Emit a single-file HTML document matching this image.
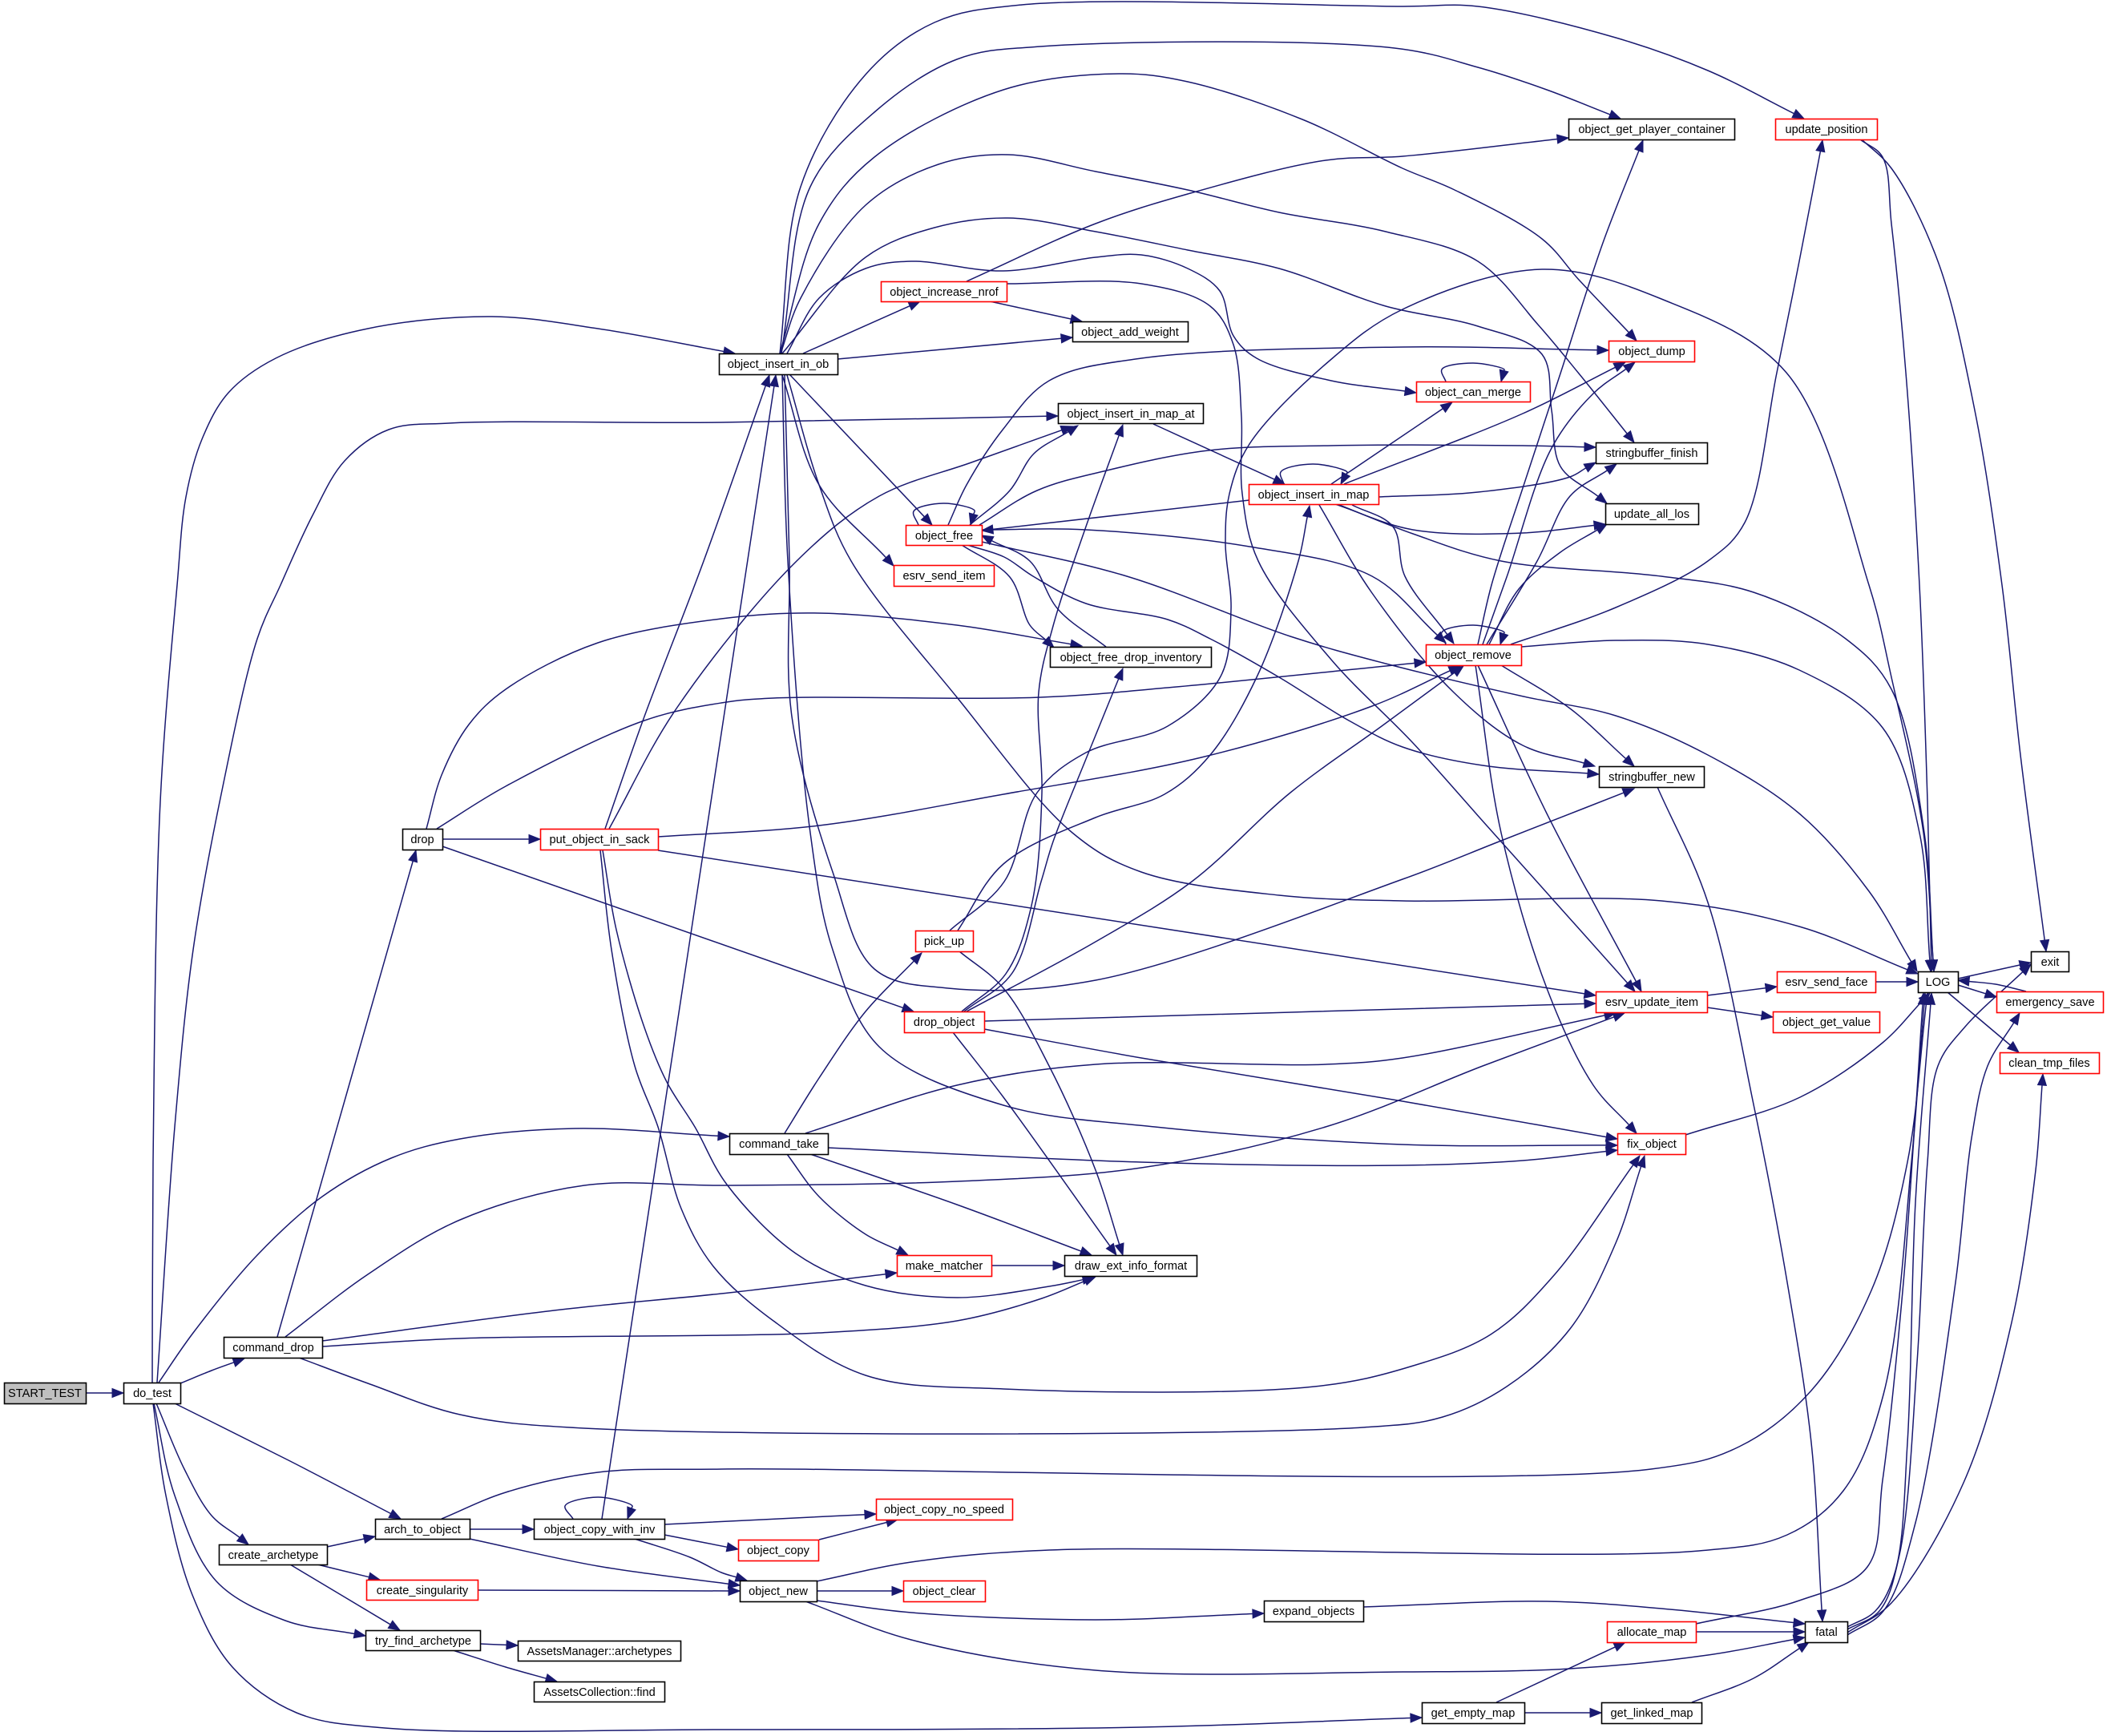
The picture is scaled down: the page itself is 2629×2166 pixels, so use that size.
<!DOCTYPE html>
<html>
<head>
<meta charset="utf-8">
<style>
html,body{margin:0;padding:0;background:#fff;}
svg{display:block;}
text{font-family:"Liberation Sans",Arial,sans-serif;font-size:14.6px;fill:#000;text-anchor:middle;}
</style>
</head>
<body>
<svg id="g" width="2629" height="2166" viewBox="0 0 2629 2166">
<rect x="0" y="0" width="2629" height="2166" fill="#fff"/>
<g id="edges" fill="none" stroke="#191970" stroke-width="1.5"></g>
<g id="heads" fill="#191970" stroke="#191970" stroke-width="1"></g>
<g id="nodes" stroke-width="1.6">
<rect x="5.5" y="1725.5" width="102" height="26" fill="#bfbfbf" stroke="#000"/><text x="56" y="1743">START_TEST</text>
<rect x="154.5" y="1725.5" width="71" height="26" fill="#fff" stroke="#000"/><text x="190" y="1743">do_test</text>
<rect x="279.5" y="1668.5" width="123" height="26" fill="#fff" stroke="#000"/><text x="341" y="1686">command_drop</text>
<rect x="468.5" y="1895.5" width="118" height="25" fill="#fff" stroke="#000"/><text x="527" y="1913">arch_to_object</text>
<rect x="666.5" y="1895.5" width="163" height="25" fill="#fff" stroke="#000"/><text x="748" y="1913">object_copy_with_inv</text>
<rect x="273.5" y="1927.5" width="135" height="25" fill="#fff" stroke="#000"/><text x="341" y="1945">create_archetype</text>
<rect x="457.5" y="1971.5" width="139" height="25" fill="#fff" stroke="#ff0000"/><text x="527" y="1989">create_singularity</text>
<rect x="456.5" y="2034.5" width="143" height="25" fill="#fff" stroke="#000"/><text x="528" y="2052">try_find_archetype</text>
<rect x="646.5" y="2047.5" width="203" height="25" fill="#fff" stroke="#000"/><text x="748" y="2065">AssetsManager::archetypes</text>
<rect x="666.5" y="2098.5" width="163" height="25" fill="#fff" stroke="#000"/><text x="748" y="2116">AssetsCollection::find</text>
<rect x="502.5" y="1034.5" width="50" height="26" fill="#fff" stroke="#000"/><text x="527" y="1052">drop</text>
<rect x="674.5" y="1034.5" width="147" height="26" fill="#fff" stroke="#ff0000"/><text x="748" y="1052">put_object_in_sack</text>
<rect x="897.5" y="441.5" width="148" height="26" fill="#fff" stroke="#000"/><text x="971" y="459">object_insert_in_ob</text>
<rect x="1099.5" y="351.5" width="157" height="25" fill="#fff" stroke="#ff0000"/><text x="1178" y="369">object_increase_nrof</text>
<rect x="1338.5" y="401.5" width="144" height="25" fill="#fff" stroke="#000"/><text x="1410" y="419">object_add_weight</text>
<rect x="1320.5" y="503.5" width="181" height="25" fill="#fff" stroke="#000"/><text x="1411" y="521">object_insert_in_map_at</text>
<rect x="1558.5" y="604.5" width="162" height="25" fill="#fff" stroke="#ff0000"/><text x="1639" y="622">object_insert_in_map</text>
<rect x="1130.5" y="655.5" width="95" height="25" fill="#fff" stroke="#ff0000"/><text x="1178" y="673">object_free</text>
<rect x="1115.5" y="705.5" width="125" height="26" fill="#fff" stroke="#ff0000"/><text x="1178" y="723">esrv_send_item</text>
<rect x="1310.5" y="807.5" width="201" height="25" fill="#fff" stroke="#000"/><text x="1411" y="825">object_free_drop_inventory</text>
<rect x="1142.5" y="1161.5" width="72" height="26" fill="#fff" stroke="#ff0000"/><text x="1178" y="1179">pick_up</text>
<rect x="1128.5" y="1262.5" width="100" height="26" fill="#fff" stroke="#ff0000"/><text x="1178" y="1280">drop_object</text>
<rect x="910.5" y="1414.5" width="123" height="26" fill="#fff" stroke="#000"/><text x="972" y="1432">command_take</text>
<rect x="1119.5" y="1566.5" width="118" height="26" fill="#fff" stroke="#ff0000"/><text x="1178" y="1584">make_matcher</text>
<rect x="1328.5" y="1566.5" width="165" height="26" fill="#fff" stroke="#000"/><text x="1411" y="1584">draw_ext_info_format</text>
<rect x="1093.5" y="1870.5" width="170" height="26" fill="#fff" stroke="#ff0000"/><text x="1178" y="1888">object_copy_no_speed</text>
<rect x="921.5" y="1921.5" width="100" height="26" fill="#fff" stroke="#ff0000"/><text x="971" y="1939">object_copy</text>
<rect x="923.5" y="1972.5" width="96" height="26" fill="#fff" stroke="#000"/><text x="971" y="1990">object_new</text>
<rect x="1127.5" y="1972.5" width="102" height="26" fill="#fff" stroke="#ff0000"/><text x="1178" y="1990">object_clear</text>
<rect x="1577.5" y="1997.5" width="124" height="26" fill="#fff" stroke="#000"/><text x="1639" y="2015">expand_objects</text>
<rect x="1957.5" y="148.5" width="207" height="26" fill="#fff" stroke="#000"/><text x="2061" y="166">object_get_player_container</text>
<rect x="2215.5" y="148.5" width="127" height="26" fill="#fff" stroke="#ff0000"/><text x="2279" y="166">update_position</text>
<rect x="2007.5" y="425.5" width="107" height="26" fill="#fff" stroke="#ff0000"/><text x="2061" y="443">object_dump</text>
<rect x="1767.5" y="476.5" width="142" height="25" fill="#fff" stroke="#ff0000"/><text x="1838" y="494">object_can_merge</text>
<rect x="1991.5" y="552.5" width="139" height="26" fill="#fff" stroke="#000"/><text x="2061" y="570">stringbuffer_finish</text>
<rect x="2003.5" y="628.5" width="116" height="26" fill="#fff" stroke="#000"/><text x="2061" y="646">update_all_los</text>
<rect x="1779.5" y="804.5" width="119" height="26" fill="#fff" stroke="#ff0000"/><text x="1838" y="822">object_remove</text>
<rect x="1995.5" y="956.5" width="131" height="26" fill="#fff" stroke="#000"/><text x="2061" y="974">stringbuffer_new</text>
<rect x="1991.5" y="1237.5" width="139" height="26" fill="#fff" stroke="#ff0000"/><text x="2061" y="1255">esrv_update_item</text>
<rect x="2217.5" y="1212.5" width="123" height="26" fill="#fff" stroke="#ff0000"/><text x="2279" y="1230">esrv_send_face</text>
<rect x="2212.5" y="1262.5" width="133" height="26" fill="#fff" stroke="#ff0000"/><text x="2279" y="1280">object_get_value</text>
<rect x="2393.5" y="1212.5" width="50" height="26" fill="#fff" stroke="#000"/><text x="2418" y="1230">LOG</text>
<rect x="2534.5" y="1187.5" width="47" height="25" fill="#fff" stroke="#000"/><text x="2558" y="1205">exit</text>
<rect x="2491.5" y="1237.5" width="133" height="26" fill="#fff" stroke="#ff0000"/><text x="2558" y="1255">emergency_save</text>
<rect x="2495.5" y="1313.5" width="124" height="26" fill="#fff" stroke="#ff0000"/><text x="2557" y="1331">clean_tmp_files</text>
<rect x="2018.5" y="1414.5" width="85" height="26" fill="#fff" stroke="#ff0000"/><text x="2061" y="1432">fix_object</text>
<rect x="2005.5" y="2023.5" width="111" height="26" fill="#fff" stroke="#ff0000"/><text x="2061" y="2041">allocate_map</text>
<rect x="2252.5" y="2023.5" width="53" height="26" fill="#fff" stroke="#000"/><text x="2279" y="2041">fatal</text>
<rect x="1774.5" y="2124.5" width="128" height="26" fill="#fff" stroke="#000"/><text x="1838" y="2142">get_empty_map</text>
<rect x="1998.5" y="2124.5" width="125" height="26" fill="#fff" stroke="#000"/><text x="2061" y="2142">get_linked_map</text>
</g>
</svg>
<script>
var E=[
[[107,1738],[154,1738]],
[[190,1725],[191,1450],[200,1000],[221,730],[232,620],[252,548],[285,490],[344,447],[459,410],[614,395],[746,410],[917,441]],
[[196,1725],[218,1406],[241,1185],[276,991],[321,797],[350,730],[390,643],[430,575],[485,536],[560,528],[900,527],[1320,519]],
[[198,1725],[241,1663],[321,1566],[402,1493],[488,1445],[574,1421],[717,1408],[910,1418]],
[[225,1726],[264,1710],[305,1695]],
[[218,1751],[360,1822],[500,1895]],
[[195,1751],[230,1833],[264,1891],[310,1927]],
[[192,1751],[218,1866],[270,1973],[356,2022],[456,2041]],
[[191,1751],[207,1866],[240,1990],[290,2080],[370,2137],[480,2156],[900,2158],[1424,2155],[1774,2143]],
[[346,1668],[519,1061]],
[[402,1673],[700,1634],[900,1614],[1119,1588]],
[[402,1680],[574,1670],[900,1666],[1022,1663],[1194,1648],[1300,1620],[1367,1593]],
[[356,1668],[459,1590],[574,1522],[729,1479],[900,1479],[1194,1474],[1424,1457],[1654,1406],[1850,1330],[2027,1264]],
[[373,1694],[459,1726],[574,1765],[729,1782],[1700,1781],[1800,1768],[1880,1730],[1959,1658],[2016,1551],[2052,1442]],
[[552,1047],[674,1047]],
[[532,1034],[551,967],[585,904],[631,860],[746,802],[900,772],[1022,765],[1194,780],[1350,806]],
[[545,1034],[631,981],[804,899],[900,877],[965,871],[1298,870],[1457,858],[1779,826]],
[[552,1056],[1140,1262]],
[[755,1034],[804,894],[878,700],[960,468]],
[[760,1034],[844,884],[994,700],[1097,619],[1212,577],[1338,532]],
[[821,1044],[1022,1030],[1252,991],[1499,945],[1712,881],[1822,831]],
[[821,1061],[1991,1242]],
[[752,1061],[769,1160],[804,1282],[832,1350],[867,1406],[907,1478],[993,1564],[1080,1604],[1194,1619],[1309,1605],[1365,1594]],
[[749,1061],[763,1185],[792,1330],[821,1406],[850,1508],[890,1580],[965,1648],[1080,1716],[1252,1733],[1640,1730],[1760,1705],[1860,1665],[1940,1590],[2046,1442]],
[[979,1414],[1022,1345],[1080,1262],[1150,1189]],
[[982,1440],[1022,1493],[1080,1540],[1133,1566]],
[[1011,1440],[1194,1503],[1362,1566]],
[[1005,1414],[1194,1354],[1367,1328],[1654,1328],[1750,1320],[2016,1264]],
[[1033,1432],[1424,1450],[1750,1454],[1900,1448],[2018,1435]],
[[1195,1161],[1252,1078],[1367,1020],[1453,991],[1510,942],[1568,845],[1620,700],[1634,631]],
[[1197,1187],[1252,1233],[1309,1330],[1367,1460],[1401,1566]],
[[1185,1161],[1253,1100],[1294,989],[1355,939],[1457,906],[1523,844],[1536,761],[1529,678],[1534,616],[1559,554],[1659,450],[1750,386],[1924,336],[2073,373],[2229,465],[2332,730],[2360,845],[2400,1039],[2413,1212]],
[[1200,1262],[1255,1215],[1287,1130],[1300,990],[1296,864],[1314,781],[1355,657],[1401,530]],
[[1203,1262],[1263,1214],[1299,1100],[1314,1050],[1355,947],[1401,834]],
[[1206,1262],[1367,1175],[1487,1100],[1610,989],[1724,906],[1826,831]],
[[1228,1274],[1991,1252]],
[[1228,1284],[1424,1320],[1750,1374],[2018,1421]],
[[1189,1288],[1252,1369],[1393,1566]],
[[973,441],[999,233],[1080,93],[1166,28],[1275,6],[1750,8],[1844,8],[2016,47],[2131,88],[2251,148]],
[[975,441],[1011,233],[1091,140],[1194,74],[1298,58],[1740,60],[1844,84],[1930,112],[2022,148]],
[[973,441],[1022,279],[1091,196],[1252,112],[1396,92],[1482,102],[1625,149],[1750,210],[1815,237],[1924,298],[1970,349],[2042,425]],
[[974,441],[999,372],[1080,256],[1171,205],[1258,193],[1367,214],[1482,237],[1596,265],[1729,289],[1844,326],[1919,405],[1970,466],[2039,552]],
[[976,441],[1080,321],[1166,284],[1258,272],[1367,289],[1482,312],[1596,335],[1729,382],[1844,407],[1924,442],[1936,512],[1947,582],[2005,628]],
[[982,441],[1022,372],[1080,335],[1137,326],[1252,338],[1367,321],[1424,318],[1482,335],[1522,363],[1539,419],[1568,447],[1661,475],[1767,490]],
[[1002,441],[1148,376]],
[[1045,448],[1338,421]],
[[985,467],[1163,655]],
[[976,468],[1022,605],[1115,706]],
[[982,468],[1022,605],[1062,700],[1194,870],[1338,1039],[1424,1088],[1596,1117],[1750,1124],[2073,1124],[2245,1156],[2393,1215]],
[[976,468],[983,700],[1011,1039],[1039,1185],[1097,1306],[1252,1379],[1441,1406],[1750,1428],[2018,1429]],
[[979,468],[985,700],[988,894],[1039,1088],[1091,1209],[1183,1233],[1367,1223],[1750,1097],[1873,1049],[2039,984]],
[[1206,351],[1367,279],[1482,242],[1654,200],[1750,195],[1957,172]],
[[1235,376],[1350,401]],
[[1256,354],[1424,354],[1510,382],[1539,430],[1549,520],[1550,616],[1570,700],[1661,823],[1763,927],[1855,1030],[2040,1237]],
[[1210,655],[1260,612],[1290,566],[1345,531]],
[[1380,807],[1320,760],[1285,700],[1225,668]],
[[1200,680],[1260,720],[1285,780],[1315,808]],
[[1222,655],[1294,612],[1381,587],[1508,562],[1661,556],[1900,556],[1991,558]],
[[1183,655],[1206,605],[1252,535],[1309,475],[1424,447],[1750,433],[2007,437]],
[[1207,680],[1253,695],[1289,719],[1355,753],[1457,773],[1510,797],[1596,845],[1683,899],[1750,932],[1850,955],[1995,966]],
[[1225,676],[1406,719],[1610,794],[1729,828],[1901,869],[2016,893],[2131,942],[2245,1015],[2332,1112],[2392,1212]],
[[1225,661],[1355,661],[1559,682],[1712,719],[1804,802]],
[[1559,624],[1225,662]],
[[1439,529],[1603,604]],
[[1661,604],[1812,502]],
[[1677,604],[1900,516],[2028,452]],
[[1720,620],[1844,614],[1959,595],[1991,577]],
[[1666,629],[1763,661],[1900,665],[2003,654]],
[[1671,630],[1763,666],[1873,700],[2073,719],[2188,739],[2303,797],[2360,860],[2401,1039],[2413,1212]],
[[1687,630],[1738,657],[1753,719],[1814,803]],
[[1646,630],[1712,740],[1814,864],[1900,930],[1990,956]],
[[1885,804],[2016,758],[2131,700],[2177,652],[2217,465],[2245,326],[2274,175]],
[[1844,804],[1861,730],[1901,606],[1947,466],[2000,303],[2050,175]],
[[1850,804],[1880,720],[1936,559],[1988,491],[2040,452]],
[[1855,804],[1918,700],[1959,619],[2017,579]],
[[1858,804],[1895,735],[1947,689],[2005,654]],
[[1898,807],[2016,799],[2131,804],[2245,836],[2349,908],[2395,1039],[2409,1212]],
[[1873,830],[1959,884],[2039,956]],
[[1844,830],[1930,1015],[2048,1237]],
[[1841,830],[1873,1039],[1930,1233],[1988,1354],[2042,1414]],
[[2321,174],[2349,196],[2360,279],[2378,465],[2395,730],[2405,1000],[2410,1212]],
[[2323,174],[2360,210],[2418,326],[2464,512],[2498,730],[2521,942],[2553,1187]],
[[2130,1242],[2217,1231]],
[[2130,1257],[2212,1269]],
[[2340,1225],[2393,1225]],
[[2443,1221],[2534,1201]],
[[2443,1229],[2491,1244]],
[[2430,1238],[2519,1313]],
[[2528,1237],[2490,1228],[2443,1223]],
[[2103,1416],[2246,1369],[2349,1301],[2408,1239]],
[[2305,2030],[2340,2010],[2365,1960],[2380,1800],[2390,1500],[2410,1239]],
[[2305,2033],[2345,2010],[2370,1940],[2392,1700],[2405,1450],[2418,1330],[2452,1281],[2534,1203]],
[[2305,2040],[2350,2010],[2390,1900],[2440,1600],[2460,1420],[2480,1330],[2520,1264]],
[[2305,2037],[2360,2000],[2450,1850],[2510,1650],[2540,1460],[2549,1340]],
[[2116,2026],[2245,1997],[2330,1955],[2349,1847],[2375,1600],[2389,1406],[2402,1239]],
[[2116,2036],[2252,2036]],
[[2111,2124],[2188,2094],[2257,2049]],
[[1867,2124],[2028,2049]],
[[1902,2137],[1998,2137]],
[[2068,982],[2131,1126],[2188,1378],[2230,1600],[2260,1800],[2274,2023]],
[[1019,1985],[1127,1985]],
[[1019,1997],[1137,2012],[1367,2021],[1577,2013]],
[[1019,1973],[1137,1949],[1309,1934],[2120,1935],[2230,1915],[2300,1860],[2350,1740],[2385,1450],[2400,1239]],
[[1005,1998],[1137,2046],[1367,2084],[1750,2086],[1959,2082],[2131,2065],[2252,2043]],
[[1701,2005],[1930,1998],[2073,2007],[2252,2026]],
[[751,1895],[968,468]],
[[829,1902],[1093,1889]],
[[829,1915],[921,1933]],
[[792,1920],[861,1943],[900,1962],[932,1972]],
[[1022,1921],[1120,1896]],
[[586,1908],[666,1908]],
[[586,1920],[746,1954],[900,1975],[923,1978]],
[[551,1895],[631,1862],[746,1837],[900,1833],[2060,1833],[2170,1805],[2260,1735],[2335,1610],[2380,1450],[2405,1239]],
[[408,1930],[468,1917]],
[[396,1952],[474,1971]],
[[362,1952],[499,2034]],
[[597,1984],[923,1985]],
[[599,2051],[646,2053]],
[[565,2059],[631,2080],[695,2098]],
[[1237,1579],[1328,1579]],
[[1146,655],[1140,638],[1177,628],[1216,637],[1211,655]],
[[1804,476],[1799,461],[1838,453],[1877,461],[1873,476]],
[[1804,804],[1799,789],[1838,780],[1877,789],[1872,804]],
[[1602,604],[1598,589],[1638,579],[1681,589],[1673,604]],
[[715,1895],[705,1879],[746,1868],[789,1879],[783,1895]]
];
(function(){
var s='',h='';
function f(n){return Math.round(n*10)/10;}
function dist(a,b){var x=a[0]-b[0],y=a[1]-b[1];return Math.max(Math.sqrt(x*x+y*y),0.01);}
for(var k=0;k<E.length;k++){
  var p=E[k],n=p.length,t=p[n-1],q=p[n-2];
  var dx=t[0]-q[0],dy=t[1]-q[1],L=Math.sqrt(dx*dx+dy*dy)||1,ux=dx/L,uy=dy/L;
  var AL=14,AW=5.5;
  var b=[t[0]-ux*AL,t[1]-uy*AL];
  var pts=p.slice(0,n-1).concat([b]);
  var m=pts.length;
  var d='M'+f(pts[0][0])+','+f(pts[0][1]);
  for(var i=0;i<m-1;i++){
    var p1=pts[i],p2=pts[i+1];
    var p0=i>0?pts[i-1]:[2*p1[0]-p2[0],2*p1[1]-p2[1]];
    var p3=i+2<m?pts[i+2]:[2*p2[0]-p1[0],2*p2[1]-p1[1]];
    var a1=dist(p0,p1),a2=dist(p1,p2),a3=dist(p2,p3);
    var r1=Math.sqrt(a1),r2=Math.sqrt(a2),r3=Math.sqrt(a3);
    var den1=3*r1*(r1+r2),den2=3*r3*(r3+r2);
    var k1=2*a1+3*r1*r2+a2,k2=2*a3+3*r3*r2+a2;
    var c1=[(a1*p2[0]-a2*p0[0]+k1*p1[0])/den1,(a1*p2[1]-a2*p0[1]+k1*p1[1])/den1];
    var c2=[(a3*p1[0]-a2*p3[0]+k2*p2[0])/den2,(a3*p1[1]-a2*p3[1]+k2*p2[1])/den2];
    d+=' C'+f(c1[0])+','+f(c1[1])+' '+f(c2[0])+','+f(c2[1])+' '+f(p2[0])+','+f(p2[1]);
  }
  s+='<path d="'+d+'"/>';
  h+='<polygon points="'+f(t[0])+','+f(t[1])+' '+f(b[0]-uy*AW)+','+f(b[1]+ux*AW)+' '+f(b[0]+uy*AW)+','+f(b[1]-ux*AW)+'"/>';
}
document.getElementById('edges').innerHTML=s;
document.getElementById('heads').innerHTML=h;
})();
</script>
</body>
</html>
